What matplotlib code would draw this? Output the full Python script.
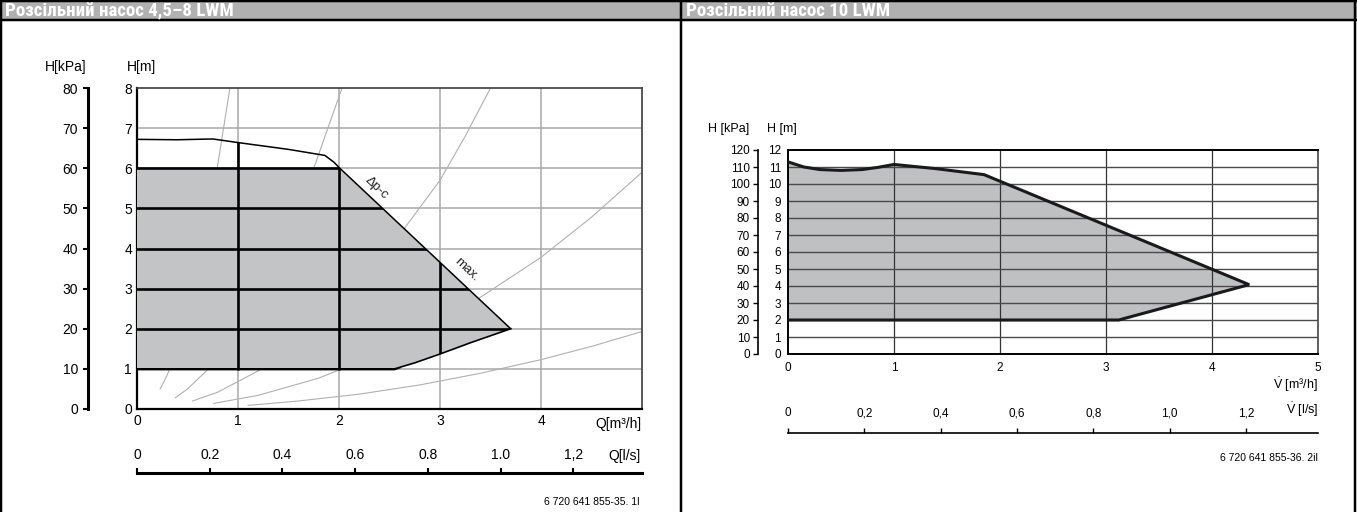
import matplotlib.pyplot as plt
from matplotlib.lines import Line2D
from matplotlib.patches import Polygon, Rectangle

plt.rcParams['font.family'] = ['Liberation Sans', 'DejaVu Sans']
plt.rcParams['mathtext.fontset'] = 'custom'
plt.rcParams['mathtext.rm'] = 'Liberation Sans'
plt.rcParams['mathtext.it'] = 'Liberation Sans:italic'

# ---- Розсільний насос 4,5-8 LWM ----
title_left = "Розсільний насос 4,5–8 LWM"
q_ticks = [0, 1, 2, 3, 4]
hm_ticks = [0, 1, 2, 3, 4, 5, 6, 7, 8]
kpa_ticks = [0, 10, 20, 30, 40, 50, 60, 70, 80]
ls_ticks = [0, 0.2, 0.4, 0.6, 0.8, 1.0, 1.2]
ls_labels = ["0", "0.2", "0.4", "0.6", "0.8", "1.0", "1,2"]

# max. curve (top plateau + falling edge)
max_q = [0, 0.4, 0.75, 1.0, 1.5, 1.86, 1.95, 2.0, 3.7]
max_h = [6.72, 6.71, 6.73, 6.64, 6.47, 6.32, 6.15, 6.02, 2.0]
# lower limit of the working range
min_q = [3.7, 3.3, 3.0, 2.75, 2.55, 0]
min_h = [2.0, 1.65, 1.37, 1.15, 1.0, 1.0]
# Δp-c region
dpc_q = [0, 2.0, 3.7]
dpc_h = [6.0, 6.0, 2.0]

# system curves
sys_q = [
    [0.23, 0.3, 0.4, 0.5, 0.6, 0.7, 0.8, 0.92],
    [0.38, 0.5, 0.75, 1.0, 1.25, 1.5, 1.75, 2.03],
    [0.55, 0.8, 1.2, 1.6, 2.0, 2.5, 3.0, 3.25, 3.5],
    [0.76, 1.2, 1.8, 2.5, 3.0, 3.5, 4.0, 4.5, 5.0],
    [1.1, 1.6, 2.2, 2.8, 3.4, 4.0, 4.5, 5.0],
]
sys_h = [
    [0.5, 0.85, 1.5, 2.35, 3.4, 4.65, 6.1, 8.0],
    [0.28, 0.5, 1.1, 1.95, 3.05, 4.4, 6.0, 8.0],
    [0.2, 0.42, 0.95, 1.68, 2.62, 4.0, 5.7, 6.8, 8.0],
    [0.14, 0.34, 0.77, 1.48, 2.12, 2.95, 3.78, 4.78, 5.9],
    [0.09, 0.2, 0.37, 0.6, 0.89, 1.23, 1.56, 1.93],
]

# ---- Розсільний насос 10 LWM ----
title_right = "Розсільний насос 10 LWM"
v_ticks = [0, 1, 2, 3, 4, 5]
hm2_ticks = list(range(0, 13))
kpa2_ticks = list(range(0, 121, 10))
ls2_ticks = [0, 0.2, 0.4, 0.6, 0.8, 1.0, 1.2]
ls2_labels = ["0", "0,2", "0,4", "0,6", "0,8", "1,0", "1,2"]

range_q = [0, 0.15, 0.3, 0.5, 0.7, 0.85, 1.0, 1.4, 1.85, 4.35, 3.12, 0]
range_h = [11.3, 11.0, 10.85, 10.8, 10.85, 10.98, 11.15, 10.9, 10.55, 4.08, 2.0, 2.0]

W, H = 1357, 512
PT = 72 / 100  # points per pixel


def fx(x):
    return x / W


def fy(y):
    return 1 - y / H


def box(x0, y0, x1, y1):
    return [fx(x0), fy(y1), (x1 - x0) / W, (y1 - y0) / H]


def hline(fig, x0, x1, y, lw, color='black'):
    fig.add_artist(Line2D([fx(x0), fx(x1)], [fy(y), fy(y)], lw=lw, color=color,
                          solid_capstyle='butt'))


def vline(fig, x, y0, y1, lw, color='black'):
    fig.add_artist(Line2D([fx(x), fx(x)], [fy(y0), fy(y1)], lw=lw, color=color,
                          solid_capstyle='butt'))


fig = plt.figure(figsize=(W / 100, H / 100), dpi=100)

# header band and frame
fig.add_artist(Rectangle((0, fy(20)), 1, 19 / H, transform=fig.transFigure,
                         facecolor='#b1b1b1', edgecolor='none'))
hline(fig, 0, W, 1.2, 2.5 * PT)
hline(fig, 0, W, 20, 2.5 * PT)
vline(fig, 1.2, 0, H, 2.5 * PT)
vline(fig, 680.5, 0, H, 2.5 * PT)
vline(fig, 1355, 0, H, 2.5 * PT)

# narrow bold header font, sized so the left title runs to x~232
title_font = dict(family=['Liberation Sans Narrow', 'Roboto Condensed',
                          'Open Sans Condensed', 'DejaVu Sans'],
                  stretch='condensed', weight='bold', color='white',
                  fontsize=13, va='center', ha='left')
t1 = fig.text(fx(5), fy(11), title_left, **title_font)
t2 = fig.text(fx(686), fy(11), title_right, **title_font)
renderer = fig.canvas.get_renderer()
width = t1.get_window_extent(renderer).width
for t in (t1, t2):
    t.set_fontsize(min(14, 13 * 227 / width))

# ================= left chart =================
ax = fig.add_axes(box(137, 88, 642, 409))
ax.set_xlim(0, 5)
ax.set_ylim(0, 8)
ax.set_xticks(q_ticks)
ax.set_yticks(hm_ticks)
ax.tick_params(length=0, labelsize=10)
ax.tick_params(axis='x', pad=5 * PT)
ax.tick_params(axis='y', pad=5 * PT)
for s in ['left', 'bottom']:
    ax.spines[s].set_linewidth(1.6)
    ax.spines[s].set_color('black')
for s in ['top', 'right']:
    ax.spines[s].set_linewidth(1.2)
    ax.spines[s].set_color('#3c3c3c')

grid_gray = '#a8a8a8'
for v in range(1, 5):
    ax.axvline(v, color=grid_gray, lw=1.1, zorder=1)
for h in range(1, 8):
    ax.axhline(h, color=grid_gray, lw=1.1, zorder=1)

for qs, hs in zip(sys_q, sys_h):
    ax.plot(qs, hs, color='#b0b0b0', lw=0.8, zorder=2)

region = list(zip(dpc_q, dpc_h)) + list(zip(min_q[1:], min_h[1:]))
ax.add_patch(Polygon(region, closed=True, facecolor='#c3c4c6', edgecolor='none', zorder=3))

# heavy grid inside the max. curve
clip = Polygon(list(zip(max_q, max_h)) + [(3.0, 1.37), (2.55, 0.96), (0, 0.96)],
               closed=True, transform=ax.transData)
for v in range(1, 5):
    ln = ax.axvline(v, color='black', lw=1.9, zorder=4)
    ln.set_clip_path(clip)
for h in range(1, 8):
    ln = ax.axhline(h, color='black', lw=1.9, zorder=4)
    ln.set_clip_path(clip)

ax.plot(max_q, max_h, color='black', lw=1.1, zorder=5)
ax.plot(min_q, min_h, color='black', lw=1.2, zorder=5)

ax.text(2.37, 5.5, "Δp-c", rotation=-43.5, fontsize=9.5, color='#222',
        ha='center', va='center', zorder=6)
ax.text(3.26, 3.47, "max.", rotation=-43.5, fontsize=9.5, color='#222',
        ha='center', va='center', zorder=6)

# kPa scale
axk = fig.add_axes(box(137, 88, 642, 409))
axk.set_ylim(0, 80)
axk.set_yticks(kpa_ticks)
axk.patch.set_visible(False)
for s in ['top', 'right', 'bottom']:
    axk.spines[s].set_visible(False)
axk.spines['left'].set_position(('outward', 49 * PT))
axk.spines['left'].set_linewidth(2.2)
axk.set_xticks([])
axk.tick_params(axis='y', direction='out', length=5 * PT, width=1.5, pad=5 * PT,
                labelsize=10)

fig.text(fx(66), fy(67), "H[kPa]", fontsize=10, ha='center', va='center')
fig.text(fx(127), fy(67), "H[m]", fontsize=10, ha='left', va='center')
fig.text(fx(641), fy(424), "Q[m³/h]", fontsize=10, ha='right', va='center')

# l/s scale
axl = fig.add_axes(box(137, 465, 642, 473))
axl.set_xlim(0, 5 / 3.6)
axl.set_xticks(ls_ticks)
axl.set_xticklabels(ls_labels)
axl.set_yticks([])
axl.patch.set_visible(False)
for s in ['top', 'right', 'left']:
    axl.spines[s].set_visible(False)
axl.spines['bottom'].set_linewidth(2.2)
axl.tick_params(axis='x', direction='in', length=5 * PT, width=1.5, bottom=True,
                top=False, labelbottom=False, labeltop=True, pad=3 * PT, labelsize=10)
fig.text(fx(641), fy(456), "Q[l/s]", fontsize=10, ha='right', va='center')
fig.text(fx(640), fy(502), "6 720 641 855-35. 1l", fontsize=7.5, ha='right', va='center')

# ================= right chart =================
ax2 = fig.add_axes(box(788, 150, 1318, 354))
ax2.set_xlim(0, 5)
ax2.set_ylim(0, 12)
ax2.set_xticks(v_ticks)
ax2.set_yticks(hm2_ticks)
ax2.tick_params(length=0, labelsize=8.5)
ax2.tick_params(axis='x', pad=8 * PT)
ax2.tick_params(axis='y', pad=7 * PT)
for s in ['left', 'bottom', 'top']:
    ax2.spines[s].set_linewidth(1.4)
    ax2.spines[s].set_color('black')
ax2.spines['right'].set_linewidth(1.2)
ax2.spines['right'].set_color('#444')

ax2.fill(range_q, range_h, facecolor='#bfc0c2', edgecolor='none', zorder=1)
for v in range(1, 5):
    ax2.axvline(v, color='#333', lw=0.9, zorder=2)
for h in range(1, 12):
    ax2.axhline(h, color='#4a4a4a', lw=1.0, zorder=2)
ax2.plot(range_q, range_h, color='#1a1a1a', lw=2.2, zorder=3, solid_joinstyle='miter')

axk2 = fig.add_axes(box(788, 150, 1318, 354))
axk2.set_ylim(0, 120)
axk2.set_yticks(kpa2_ticks)
axk2.patch.set_visible(False)
for s in ['top', 'right', 'bottom']:
    axk2.spines[s].set_visible(False)
axk2.spines['left'].set_position(('outward', 30 * PT))
axk2.spines['left'].set_linewidth(1.2)
axk2.set_xticks([])
axk2.tick_params(axis='y', direction='out', length=5 * PT, width=1.0, pad=3 * PT,
                 labelsize=8.5)

fig.text(fx(708), fy(129), "H [kPa]", fontsize=9, ha='left', va='center')
fig.text(fx(767), fy(129), "H [m]", fontsize=9, ha='left', va='center')
fig.text(fx(1318), fy(385), r"$\dot{\mathrm{V}}$ [m³/h]", fontsize=9, ha='right', va='center')

axl2 = fig.add_axes(box(788, 424, 1318, 433))
axl2.set_xlim(0, 5 / 3.6)
axl2.set_xticks(ls2_ticks)
axl2.set_xticklabels(ls2_labels)
axl2.set_yticks([])
axl2.patch.set_visible(False)
for s in ['top', 'right', 'left']:
    axl2.spines[s].set_visible(False)
axl2.spines['bottom'].set_linewidth(1.2)
axl2.tick_params(axis='x', direction='in', length=5 * PT, width=1.0, bottom=True,
                 top=False, labelbottom=False, labeltop=True, pad=5 * PT, labelsize=8.5)
fig.text(fx(1318), fy(410), r"$\dot{\mathrm{V}}$ [l/s]", fontsize=9, ha='right', va='center')
fig.text(fx(1318), fy(458), "6 720 641 855-36. 2il", fontsize=7.5, ha='right', va='center')

fig.savefig("out.png", dpi=100)
